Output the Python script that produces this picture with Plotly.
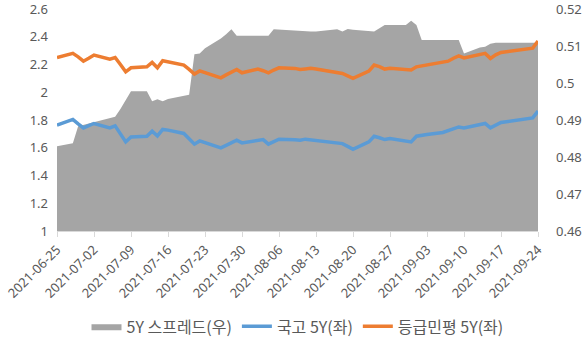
import pandas as pd
import plotly.graph_objects as go

# Trading days (Korean market holidays removed)
holidays = ["2021-08-16", "2021-09-20", "2021-09-21", "2021-09-22"]
dates = [d for d in pd.bdate_range("2021-06-25", "2021-09-24")
         if d.strftime("%Y-%m-%d") not in holidays]

# 5Y credit spread (right axis)
spread_5y = [
    0.4829, 0.4837, 0.4883, 0.4887, 0.4891, 0.4895, 0.4905, 0.4909, 0.4930, 0.4955,
    0.4978, 0.4978, 0.4951, 0.4956, 0.4951, 0.4957, 0.4965, 0.4968, 0.5078, 0.5080,
    0.5094, 0.5120, 0.5132, 0.5145, 0.5128, 0.5128, 0.5128, 0.5128, 0.5128, 0.5145,
    0.5144, 0.5141, 0.5139, 0.5139, 0.5139, 0.5139, 0.5145, 0.5139, 0.5146, 0.5144,
    0.5140, 0.5139, 0.5148, 0.5157, 0.5157, 0.5157, 0.5168, 0.5157, 0.5116, 0.5116,
    0.5116, 0.5116, 0.5116, 0.5116, 0.5080, 0.5096, 0.5098, 0.5106, 0.5109, 0.5109,
    0.5109, 0.5109,
]

# Treasury 5Y yield (left axis)
ktb_5y = [
    1.763, 1.804, 1.772, 1.743, 1.760, 1.775, 1.743, 1.758, 1.700, 1.642,
    1.678, 1.683, 1.719, 1.685, 1.732, 1.727, 1.703, 1.665, 1.626, 1.649,
    1.637, 1.599, 1.617, 1.636, 1.654, 1.635, 1.652, 1.659, 1.626, 1.645,
    1.662, 1.657, 1.654, 1.662, 1.658, 1.654, 1.640, 1.630, 1.610, 1.589,
    1.642, 1.683, 1.672, 1.659, 1.667, 1.652, 1.642, 1.683, 1.690, 1.695,
    1.710, 1.722, 1.735, 1.750, 1.743, 1.765, 1.775, 1.743, 1.765, 1.782,
    1.815, 1.864,
]

# Rated corporate 5Y yield (left axis)
corp_5y = [
    2.250, 2.280, 2.255, 2.224, 2.245, 2.268, 2.239, 2.250, 2.200, 2.147,
    2.176, 2.183, 2.215, 2.176, 2.227, 2.220, 2.196, 2.165, 2.131, 2.154,
    2.140, 2.104, 2.125, 2.145, 2.164, 2.140, 2.167, 2.155, 2.140, 2.160,
    2.176, 2.172, 2.164, 2.168, 2.172, 2.167, 2.145, 2.135, 2.118, 2.100,
    2.152, 2.196, 2.185, 2.167, 2.172, 2.165, 2.160, 2.183, 2.190, 2.200,
    2.215, 2.224, 2.245, 2.262, 2.248, 2.270, 2.280, 2.244, 2.270, 2.287,
    2.318, 2.369,
]

series_names = ["5Y 스프레드(우)", "국고 5Y(좌)", "등급민평 5Y(좌)"]
tick_dates = pd.date_range("2021-06-25", "2021-09-24", freq="7D")
left_ticks = [1, 1.2, 1.4, 1.6, 1.8, 2, 2.2, 2.4, 2.6]
right_ticks = [0.46, 0.47, 0.48, 0.49, 0.5, 0.51, 0.52]

font_family = "'Noto Sans', 'Noto Sans CJK KR', sans-serif"
text_color = "#595959"

fig = go.Figure()
# Area sits on the base y axis so the yield lines (overlay axis) draw above it
fig.add_trace(go.Scatter(
    x=dates, y=spread_5y, name=series_names[0], yaxis="y",
    mode="lines", line=dict(color="#A5A5A5", width=0),
    fill="tozeroy", fillcolor="#A5A5A5",
))
fig.add_trace(go.Scatter(
    x=dates, y=ktb_5y, name=series_names[1], yaxis="y2",
    mode="lines", line=dict(color="#5B9BD5", width=3.5),
))
fig.add_trace(go.Scatter(
    x=dates, y=corp_5y, name=series_names[2], yaxis="y2",
    mode="lines", line=dict(color="#ED7D31", width=3.5),
))

fig.update_layout(
    width=587, height=344,
    margin=dict(l=57, r=49, t=9, b=113, autoexpand=False),
    paper_bgcolor="white", plot_bgcolor="white",
    font=dict(family=font_family, size=12, color=text_color),
    showlegend=True,
    legend=dict(orientation="h", x=0.5, xanchor="center", y=-0.43, yanchor="middle",
                font=dict(family="'Noto Sans CJK KR', sans-serif", size=16,
                          color=text_color),
                itemwidth=30, traceorder="normal"),
    xaxis=dict(
        type="date", range=["2021-06-25", "2021-09-24"],
        tickvals=list(tick_dates), tickformat="%Y-%m-%d", tickangle=-45,
        ticks="outside", ticklen=5, tickcolor="#D9D9D9",
        showline=True, linecolor="#D9D9D9", linewidth=1,
        showgrid=False, zeroline=False,
        tickfont=dict(size=13, color=text_color),
    ),
    yaxis=dict(
        side="right", range=[0.46, 0.52], tickvals=right_ticks,
        ticktext=[f"{v:g}" for v in right_ticks],
        showgrid=False, zeroline=False, showline=False,
        ticks="", ticklen=0, ticklabelstandoff=17,
        ticklabeloverflow="allow",
        tickfont=dict(size=13, color=text_color),
    ),
    yaxis2=dict(
        side="left", overlaying="y", range=[1, 2.6], tickvals=left_ticks,
        ticktext=[f"{v:g}" for v in left_ticks],
        showgrid=False, zeroline=False, showline=False,
        ticks="", ticklen=0, ticklabelstandoff=8,
        ticklabeloverflow="allow",
        tickfont=dict(size=13, color=text_color),
    ),
)

fig.write_html("out.html")
